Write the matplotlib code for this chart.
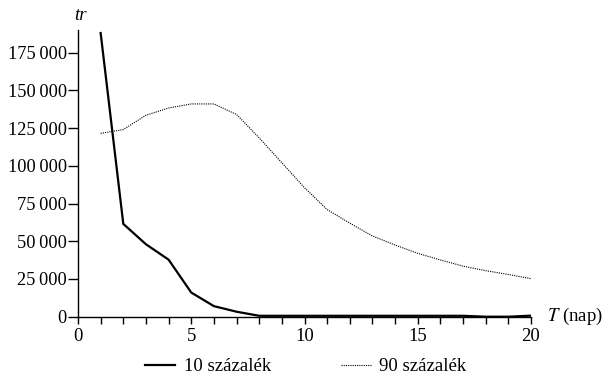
import matplotlib.pyplot as plt
from matplotlib.ticker import MultipleLocator, FuncFormatter

plt.rcParams['font.family'] = ['Liberation Serif', 'DejaVu Serif']
plt.rcParams['mathtext.fontset'] = 'stix'

# napok (T) es a ket sorozat ertekei
days = list(range(1, 21))
tr_10 = [188000, 61500, 48000, 37800, 16000, 7000, 3300, 600, 600, 600,
         600, 600, 600, 600, 600, 600, 600, 0, 0, 700]
tr_90 = [121500, 124000, 133500, 138300, 141000, 141000, 134000, 118500, 102000, 85500,
         71000, 62000, 53500, 47500, 42000, 37600, 33500, 30500, 28000, 25200]

x_ticks = [0, 5, 10, 15, 20]
y_ticks = [0, 25000, 50000, 75000, 100000, 125000, 150000, 175000]

FS = 13.5


def thousands(v, pos):
    s = f"{int(v):,}"
    return s.replace(",", "\u2009")


fig = plt.figure(figsize=(6.02, 3.76), dpi=100)
ax = fig.add_axes([78 / 602, 59.3 / 376, 453 / 602, 286.7 / 376])

ax.plot(days, tr_10, color='black', linewidth=1.6, solid_joinstyle='miter', label='10 százalék')
ax.plot(days, tr_90, color='black', linewidth=0.8, linestyle=(0, (1, 1)), label='90 százalék')

ax.set_xlim(0, 20)
ax.set_ylim(0, 190000)
ax.set_xticks(x_ticks)
ax.set_yticks(y_ticks)
ax.xaxis.set_minor_locator(MultipleLocator(1))
ax.yaxis.set_major_formatter(FuncFormatter(thousands))

for side in ['top', 'right']:
    ax.spines[side].set_visible(False)
ax.spines['left'].set_linewidth(1.0)
ax.spines['bottom'].set_linewidth(1.0)
ax.tick_params(axis='x', which='major', labelsize=FS, direction='out', width=1.0, length=5, pad=3)
ax.tick_params(axis='y', which='major', labelsize=13.2, direction='out', width=1.0, length=7, pad=1)
ax.tick_params(axis='x', which='minor', direction='out', length=5, width=1.0)

ax.text(0.005, 1.02, 'tr', transform=ax.transAxes, fontsize=FS, style='italic', ha='center', va='bottom')
ax.text(1.035, 0, '$T$ (nap)', transform=ax.transAxes, fontsize=FS, ha='left', va='center')

fig.legend(loc='center', bbox_to_anchor=(0.508, 0.025), ncol=2, frameon=False,
           fontsize=FS, handlelength=1.6, columnspacing=3.7, handletextpad=0.45,
           borderaxespad=0, borderpad=0)

fig.savefig('out.png', dpi=100)
